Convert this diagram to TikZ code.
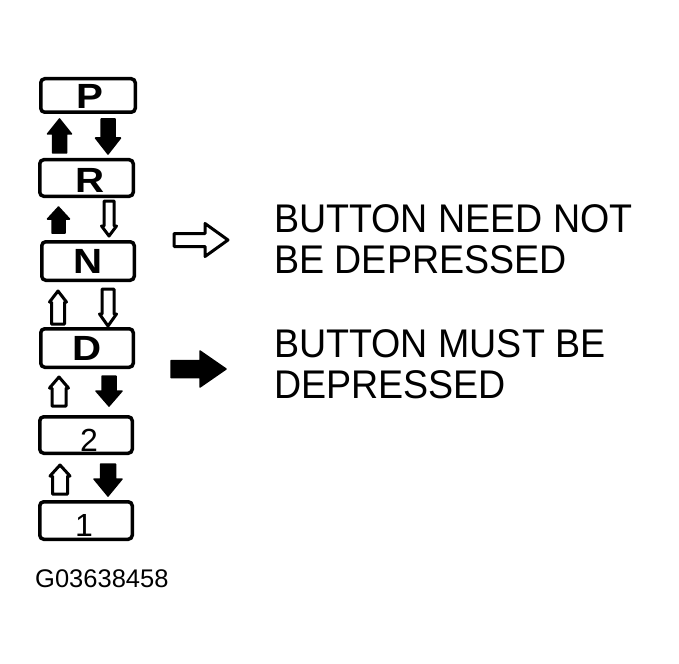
\documentclass[tikz,border=0pt]{standalone}
\usepackage{fontspec}
\setmainfont{Liberation Sans}
\newfontfamily\captfont[FakeStretch=0.94]{Liberation Sans}
\newfontfamily\gearfont[FakeStretch=1.15]{Liberation Sans}
\usetikzlibrary{calc}
\tikzset{
  gearbox/.style={draw=black, line width=3.5pt, rounded corners=4pt, inner sep=0pt, fill=white},
  gearlabel/.style={anchor=base, inner sep=0pt, font=\gearfont\bfseries\fontsize{35}{35}\selectfont},
  gearnum/.style={anchor=base, inner sep=0pt, font=\fontsize{32}{32}\selectfont},
  caption/.style={anchor=base west, inner sep=0pt, font=\captfont\fontsize{40}{40}\selectfont},
  figid/.style={anchor=base west, inner sep=0pt, font=\fontsize{25.5}{25.5}\selectfont},
  solidarrow/.style={draw=black, fill=black, line width=1.5pt, line join=round},
  hollowarrow/.style={draw=black, fill=white, line width=3pt, line join=round}
}
% up arrow: #1 style, #2 cx, #3 top, #4 bottom, #5 head width, #6 shaft width, #7 head height
\newcommand\gearup[7]{%
  \path[#1] (#2,#3) -- ({#2+#5/2},{#3+#7}) -- ({#2+#6/2},{#3+#7}) -- ({#2+#6/2},#4)
    -- ({#2-#6/2},#4) -- ({#2-#6/2},{#3+#7}) -- ({#2-#5/2},{#3+#7}) -- cycle;}
% down arrow: #1 style, #2 cx, #3 top, #4 bottom, #5 head width, #6 shaft width, #7 head height
\newcommand\geardown[7]{%
  \path[#1] (#2,#4) -- ({#2+#5/2},{#4-#7}) -- ({#2+#6/2},{#4-#7}) -- ({#2+#6/2},#3)
    -- ({#2-#6/2},#3) -- ({#2-#6/2},{#4-#7}) -- ({#2-#5/2},{#4-#7}) -- cycle;}
% right arrow: #1 style, #2 left, #3 tip, #4 cy, #5 shaft half height, #6 head x, #7 head half height
\newcommand\gearright[7]{%
  \path[#1] (#3,#4) -- (#6,{#4-#7}) -- (#6,{#4-#5}) -- (#2,{#4-#5})
    -- (#2,{#4+#5}) -- (#6,{#4+#5}) -- (#6,{#4+#7}) -- cycle;}
\begin{document}
\begin{tikzpicture}[x=1pt,y=-1pt]
\useasboundingbox[fill=white] (0,0) rectangle (679,663);

% gear boxes
\node[gearbox, minimum width=94.5pt, minimum height=33.5pt] (bP) at (88,95.5) {};
\node[gearbox, minimum width=93.5pt, minimum height=36.5pt] (bR) at (86.5,178) {};
\node[gearbox, minimum width=92.5pt, minimum height=38.5pt] (bN) at (88,261) {};
\node[gearbox, minimum width=92.5pt, minimum height=38.5pt] (bD) at (87,348) {};
\node[gearbox, minimum width=92.5pt, minimum height=36.5pt] (b2) at (86,435) {};
\node[gearbox, minimum width=92.5pt, minimum height=37.5pt] (b1) at (86,520.5) {};

% gear labels
\node[gearlabel] (lP) at (90,109) {P};
\node[gearlabel] (lR) at (90,192) {R};
\node[gearlabel] (lN) at (88,273) {N};
\node[gearlabel] (lD) at (87,360) {D};
\node[gearnum] (l2) at (89,451) {2};
\node[gearnum] (l1) at (84,536) {1};

% arrows between P and R
\gearup{solidarrow}{59.5}{119}{153}{24}{14}{15}
\geardown{solidarrow}{108}{119}{154}{25}{14}{16}
% between R and N
\gearup{solidarrow}{58.5}{207}{233}{22}{13}{12}
\geardown{hollowarrow}{109}{201}{236}{15}{10}{10}
% between N and D
\gearup{hollowarrow}{58}{291}{324}{17}{13}{11}
\geardown{hollowarrow}{108}{289}{326}{17}{12}{12}
% between D and 2
\gearup{hollowarrow}{59}{377}{406}{19}{14}{11}
\geardown{solidarrow}{109}{376}{406}{26}{14}{15}
% between 2 and 1
\gearup{hollowarrow}{60}{465}{494}{20}{15}{11}
\geardown{solidarrow}{108}{464}{496}{28}{15}{17}

% legend arrows
\gearright{hollowarrow}{174}{228}{240}{6.5}{205}{16.5}
\gearright{solidarrow}{171}{226}{369}{8.5}{200}{18}

% legend texts
\node[caption] (t1) at (274,232) {BUTTON NEED NOT};
\node[caption] (t2) at (274,273) {BE DEPRESSED};
\node[caption] (t3) at (274,357) {BUTTON MUST BE};
\node[caption] (t4) at (274,398) {DEPRESSED};

\node[figid] (gid) at (35,587) {G03638458};
\end{tikzpicture}
\end{document}
